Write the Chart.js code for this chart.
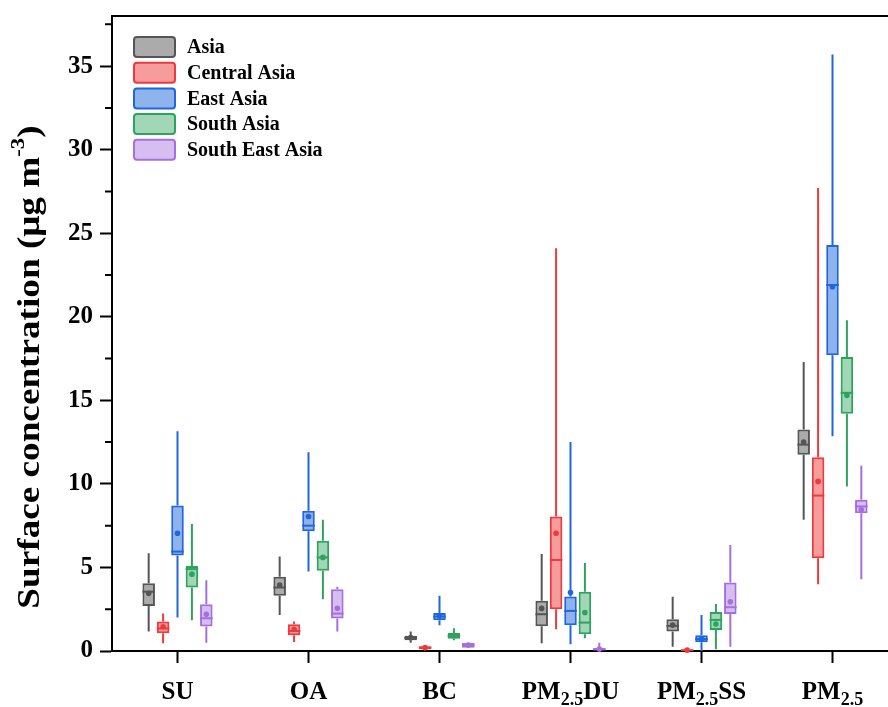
<!DOCTYPE html>
<html lang="en">
<head>
	<meta charset="UTF-8">
	<title>Surface concentration box plot</title>
	<script src="https://cdn.jsdelivr.net/npm/chart.js@4.4.1/dist/chart.umd.min.js"></script>
	<style>
		html, body { margin: 0; padding: 0; background: #fff; overflow: hidden; }
		#wrap { width: 900px; height: 707px; }
	</style>
</head>
<body>
	<div id="wrap"><canvas id="boxChart" width="900" height="707"></canvas></div>

	<script>
		// categories / tick labels (parts: main, subscript, main)
		var categories = ['SU', 'OA', 'BC', 'PM2.5DU', 'PM2.5SS', 'PM2.5'];
		var tickLabels = [['SU'], ['OA'], ['BC'], ['PM', '2.5', 'DU'], ['PM', '2.5', 'SS'], ['PM', '2.5']];
		var regions = ['Asia', 'Central Asia', 'East Asia', 'South Asia', 'South East Asia'];

		// each row: [min, q1, median, q3, max, mean]
		var asiaStats = [
			[1.16, 2.70, 3.55, 4.05, 5.85, 3.45],
			[2.15, 3.30, 3.80, 4.45, 5.65, 3.95],
			[0.50, 0.65, 0.78, 0.92, 1.16, 0.80],
			[0.46, 1.48, 2.20, 3.00, 5.80, 2.55],
			[0.25, 1.16, 1.50, 1.90, 3.25, 1.55],
			[7.85, 11.75, 12.35, 13.25, 17.30, 12.50]
		];
		var centralAsiaStats = [
			[0.46, 1.06, 1.35, 1.76, 2.24, 1.45],
			[0.54, 0.94, 1.20, 1.60, 1.76, 1.30],
			[0.04, 0.10, 0.20, 0.28, 0.34, 0.20],
			[1.30, 2.50, 5.45, 8.05, 24.10, 7.05],
			[0.00, 0.02, 0.05, 0.08, 0.12, 0.05],
			[4.00, 5.55, 9.30, 11.60, 27.70, 10.15]
		];
		var eastAsiaStats = [
			[2.00, 5.72, 5.95, 8.70, 13.15, 7.05],
			[4.76, 7.16, 7.50, 8.40, 11.90, 8.05],
			[1.54, 1.84, 2.06, 2.28, 3.30, 2.10],
			[0.40, 1.54, 2.40, 3.26, 12.50, 3.50],
			[0.00, 0.52, 0.72, 0.94, 2.16, 0.72],
			[12.85, 17.70, 21.90, 24.30, 35.70, 21.80]
		];
		var southAsiaStats = [
			[1.84, 3.80, 4.90, 5.08, 7.60, 4.60],
			[3.10, 4.80, 5.60, 6.60, 7.85, 5.60],
			[0.64, 0.74, 0.90, 1.08, 1.36, 0.92],
			[0.76, 1.00, 1.70, 3.54, 5.26, 2.30],
			[0.10, 1.26, 1.86, 2.34, 2.82, 1.62],
			[9.85, 14.20, 15.45, 17.60, 19.80, 15.30]
		];
		var southEastAsiaStats = [
			[0.50, 1.46, 1.96, 2.80, 4.24, 2.20],
			[1.16, 1.94, 2.24, 3.70, 3.84, 2.56],
			[0.18, 0.20, 0.35, 0.48, 0.50, 0.36],
			[0.00, 0.04, 0.10, 0.20, 0.50, 0.12],
			[0.26, 2.22, 2.62, 4.10, 6.35, 2.95],
			[4.30, 8.25, 8.65, 9.05, 11.08, 8.45]
		];

		var yMax = 38;
		var serif = '"Liberation Serif", "Times New Roman", serif';

		var allStats = [asiaStats, centralAsiaStats, eastAsiaStats, southAsiaStats, southEastAsiaStats];
		var lineColors = ['#555555', '#ee3a3c', '#1f67db', '#2ea35d', '#a66fdf'];
		var fillColors = ['rgba(120,120,120,0.62)', 'rgba(238,58,60,0.5)', 'rgba(31,103,219,0.5)', 'rgba(46,163,93,0.45)', 'rgba(166,111,223,0.45)'];

		var datasets = regions.map(function (name, i) {
			return {
				label: name,
				data: allStats[i].map(function (s) { return [s[1], s[3]]; }),
				stats: allStats[i],
				backgroundColor: fillColors[i],
				borderColor: lineColors[i],
				borderWidth: 2,
				borderSkipped: false,
				categoryPercentage: 0.55,
				barPercentage: 0.87
			};
		});

		// whiskers, medians and means
		var boxExtras = {
			id: 'boxExtras',
			beforeDatasetsDraw: function (chart) {
				var ctx = chart.ctx, y = chart.scales.y;
				ctx.save();
				ctx.lineWidth = 2;
				chart.data.datasets.forEach(function (ds, di) {
					chart.getDatasetMeta(di).data.forEach(function (el, i) {
						var s = ds.stats[i];
						ctx.strokeStyle = ds.borderColor;
						ctx.beginPath();
						ctx.moveTo(el.x, y.getPixelForValue(s[4]));
						ctx.lineTo(el.x, y.getPixelForValue(s[3]));
						ctx.moveTo(el.x, y.getPixelForValue(s[1]));
						ctx.lineTo(el.x, y.getPixelForValue(s[0]));
						ctx.stroke();
					});
				});
				ctx.restore();
			},
			afterDatasetsDraw: function (chart) {
				var ctx = chart.ctx, y = chart.scales.y;
				ctx.save();
				chart.data.datasets.forEach(function (ds, di) {
					chart.getDatasetMeta(di).data.forEach(function (el, i) {
						var s = ds.stats[i];
						var half = el.width / 2;
						var my = y.getPixelForValue(s[2]);
						ctx.strokeStyle = ds.borderColor;
						ctx.lineWidth = 2;
						ctx.beginPath();
						ctx.moveTo(el.x - half, my);
						ctx.lineTo(el.x + half, my);
						ctx.stroke();
						ctx.fillStyle = ds.borderColor;
						ctx.beginPath();
						ctx.arc(el.x, y.getPixelForValue(s[5]), 2.8, 0, Math.PI * 2);
						ctx.fill();
					});
				});
				ctx.restore();
			}
		};

		// legend inside the plot, top left
		var insideLegend = {
			id: 'insideLegend',
			afterDraw: function (chart) {
				var ctx = chart.ctx, area = chart.chartArea;
				ctx.save();
				ctx.font = 'bold 20px ' + serif;
				ctx.textBaseline = 'middle';
				chart.data.datasets.forEach(function (ds, i) {
					var bx = area.left + 22, by = area.top + 21 + i * 25.7;
					ctx.beginPath();
					ctx.roundRect(bx, by, 41, 20, 3);
					ctx.fillStyle = ds.backgroundColor;
					ctx.fill();
					ctx.lineWidth = 2;
					ctx.strokeStyle = ds.borderColor;
					ctx.stroke();
					ctx.fillStyle = '#000';
					ctx.fillText(ds.label, bx + 53, by + 11);
				});
				ctx.restore();
			}
		};

		// frame, minor ticks, axis title and sub-scripted category labels
		var axisDecor = {
			id: 'axisDecor',
			afterDraw: function (chart) {
				var ctx = chart.ctx, area = chart.chartArea, y = chart.scales.y, x = chart.scales.x;
				ctx.save();
				ctx.strokeStyle = '#000';
				ctx.lineWidth = 2;
				ctx.beginPath();
				ctx.moveTo(area.left - 1, area.top);
				ctx.lineTo(area.right, area.top);
				ctx.lineTo(area.right, area.bottom);
				ctx.stroke();

				// minor ticks
				ctx.beginPath();
				for (var v = 2.5; v < yMax; v += 5) {
					var py = y.getPixelForValue(v);
					ctx.moveTo(area.left - 7, py);
					ctx.lineTo(area.left, py);
				}
				ctx.stroke();

				// y title
				ctx.fillStyle = '#000';
				ctx.translate(31, 367);
				ctx.rotate(-Math.PI / 2);
				ctx.scale(1.2, 1);
				ctx.textBaseline = 'middle';
				var big = 'bold 31px ' + serif, small = 'bold 19px ' + serif;
				var t1 = 'Surface concentration (\u03bcg m', t2 = '-3', t3 = ')';
				ctx.font = big; var w1 = ctx.measureText(t1).width, w3 = ctx.measureText(t3).width;
				ctx.font = small; var w2 = ctx.measureText(t2).width;
				var sx = -(w1 + w2 + w3) / 2;
				ctx.font = big; ctx.fillText(t1, sx, 0);
				ctx.font = small; ctx.fillText(t2, sx + w1, -12);
				ctx.font = big; ctx.fillText(t3, sx + w1 + w2, 0);
				ctx.setTransform(1, 0, 0, 1, 0, 0);

				// x labels
				ctx.textBaseline = 'alphabetic';
				var fonts = ['bold 25px ' + serif, 'bold 18px ' + serif, 'bold 25px ' + serif];
				tickLabels.forEach(function (parts, i) {
					var cx = x.getPixelForValue(i);
					var widths = parts.map(function (p, k) { ctx.font = fonts[k]; return ctx.measureText(p).width; });
					var total = widths.reduce(function (a, b) { return a + b; }, 0);
					var px = cx - total / 2;
					parts.forEach(function (p, k) {
						ctx.font = fonts[k];
						ctx.fillText(p, px, k === 1 ? 705 : 699);
						px += widths[k];
					});
				});
				ctx.restore();
			}
		};

		var boxChart = new Chart(document.getElementById('boxChart'), {
			type: 'bar',
			data: { labels: categories, datasets: datasets },
			plugins: [boxExtras, insideLegend, axisDecor],
			options: {
				responsive: false,
				animation: false,
				layout: { padding: { top: 16, right: 2, left: 0, bottom: 0 } },
				plugins: {
					tooltip: { enabled: false },
					legend: { display: false }
				},
				scales: {
					x: {
						afterFit: function (scale) { scale.height = 56; },
						grid: {
							display: true,
							offset: false,
							drawOnChartArea: false,
							tickLength: 12,
							tickWidth: 2,
							tickColor: '#000'
						},
						border: { display: true, color: '#000', width: 2 },
						ticks: { display: false }
					},
					y: {
						min: 0,
						max: yMax,
						afterFit: function (scale) {
							scale.width = 112;
							scale.paddingTop = 0;
							scale.paddingBottom = 0;
						},
						grid: {
							drawOnChartArea: false,
							tickLength: 12,
							tickWidth: 2,
							tickColor: '#000'
						},
						border: { display: true, color: '#000', width: 2 },
						ticks: {
							stepSize: 5,
							includeBounds: false,
							padding: 7,
							color: '#000',
							font: { family: serif, size: 25, weight: 'bold' }
						}
					}
				}
			}
		});
	</script>
</body>
</html>
